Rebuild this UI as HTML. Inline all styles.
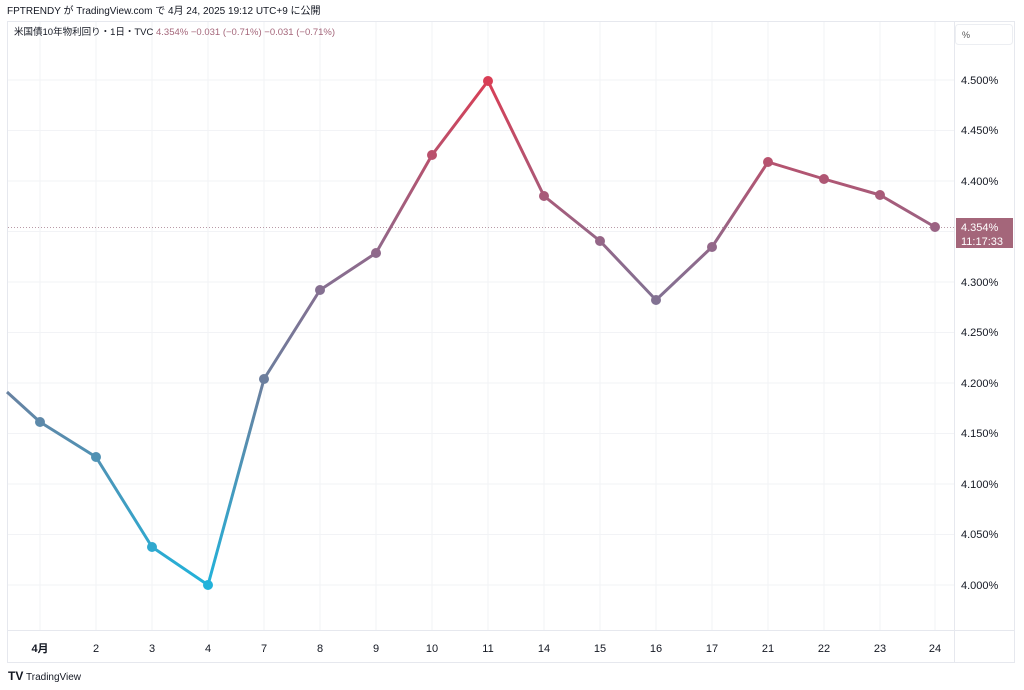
<!DOCTYPE html><html><head><meta charset="utf-8"><style>
body{margin:0;background:#fff;width:1024px;height:690px;overflow:hidden;font-family:"Liberation Sans","Noto Sans CJK JP",sans-serif}
</style></head><body>
<svg width="1024" height="690" xmlns="http://www.w3.org/2000/svg" style="position:absolute;left:0;top:0;font-family:'Liberation Sans','Noto Sans CJK JP',sans-serif">
<defs><linearGradient id="g" gradientUnits="userSpaceOnUse" x1="0" y1="585" x2="0" y2="80">
<stop offset="0" stop-color="#22b2da"/><stop offset="0.4" stop-color="#6b7f9e"/><stop offset="0.65" stop-color="#8e6a8c"/><stop offset="1" stop-color="#d93e55"/></linearGradient></defs>
<rect x="7.5" y="21.5" width="1007" height="641" fill="none" stroke="#e6e8ee"/>
<line x1="7" y1="630.5" x2="1015" y2="630.5" stroke="#e6e8ee"/>
<line x1="954.5" y1="22" x2="954.5" y2="662" stroke="#e6e8ee"/>
<g stroke="#f2f3f6">
<line x1="8" x2="954" y1="80" y2="80"/><line x1="8" x2="954" y1="130.5" y2="130.5"/><line x1="8" x2="954" y1="181" y2="181"/><line x1="8" x2="954" y1="231.5" y2="231.5"/><line x1="8" x2="954" y1="282" y2="282"/><line x1="8" x2="954" y1="332.5" y2="332.5"/><line x1="8" x2="954" y1="383" y2="383"/><line x1="8" x2="954" y1="433.5" y2="433.5"/><line x1="8" x2="954" y1="484" y2="484"/><line x1="8" x2="954" y1="534.5" y2="534.5"/><line x1="8" x2="954" y1="585" y2="585"/>
<line y1="22" y2="630" x1="40" x2="40"/><line y1="22" y2="630" x1="96" x2="96"/><line y1="22" y2="630" x1="152" x2="152"/><line y1="22" y2="630" x1="208" x2="208"/><line y1="22" y2="630" x1="264" x2="264"/><line y1="22" y2="630" x1="320" x2="320"/><line y1="22" y2="630" x1="376" x2="376"/><line y1="22" y2="630" x1="432" x2="432"/><line y1="22" y2="630" x1="488" x2="488"/><line y1="22" y2="630" x1="544" x2="544"/><line y1="22" y2="630" x1="600" x2="600"/><line y1="22" y2="630" x1="656" x2="656"/><line y1="22" y2="630" x1="712" x2="712"/><line y1="22" y2="630" x1="768" x2="768"/><line y1="22" y2="630" x1="824" x2="824"/><line y1="22" y2="630" x1="880" x2="880"/><line y1="22" y2="630" x1="935" x2="935"/>
</g>
<line x1="8" x2="954" y1="227.5" y2="227.5" stroke="#b89aa6" stroke-dasharray="1,2"/>
<polyline fill="none" stroke="url(#g)" stroke-width="3" stroke-linejoin="round" points="7,392 40,422 96,457 152,547 208,585 264,379 320,290 376,253 432,155 488,81 544,196 600,241 656,300 712,247 768,162 824,179 880,195 935,227"/>
<g fill="url(#g)">
<circle cx="40" cy="422" r="5"/><circle cx="96" cy="457" r="5"/><circle cx="152" cy="547" r="5"/><circle cx="208" cy="585" r="5"/><circle cx="264" cy="379" r="5"/><circle cx="320" cy="290" r="5"/><circle cx="376" cy="253" r="5"/><circle cx="432" cy="155" r="5"/><circle cx="488" cy="81" r="5"/><circle cx="544" cy="196" r="5"/><circle cx="600" cy="241" r="5"/><circle cx="656" cy="300" r="5"/><circle cx="712" cy="247" r="5"/><circle cx="768" cy="162" r="5"/><circle cx="824" cy="179" r="5"/><circle cx="880" cy="195" r="5"/><circle cx="935" cy="227" r="5"/>
</g>
<g font-size="11" fill="#131722">
<text x="961" y="84">4.500%</text><text x="961" y="134">4.450%</text><text x="961" y="185">4.400%</text><text x="961" y="286">4.300%</text><text x="961" y="336">4.250%</text><text x="961" y="387">4.200%</text><text x="961" y="437">4.150%</text><text x="961" y="488">4.100%</text><text x="961" y="538">4.050%</text><text x="961" y="589">4.000%</text>
</g>
<rect x="956" y="218" width="57" height="30" fill="#a4667a"/>
<text x="961" y="231" font-size="11" fill="#fff">4.354%</text>
<text x="961" y="245" font-size="11" fill="#fff">11:17:33</text>
<rect x="955.5" y="24.5" width="57" height="20" rx="3" fill="#fff" stroke="#eceef2"/>
<text x="962" y="38" font-size="9" fill="#555">%</text>
<g font-size="11" fill="#131722" text-anchor="middle">
<text x="40" y="652" font-weight="bold">4月</text><text x="96" y="652">2</text><text x="152" y="652">3</text><text x="208" y="652">4</text><text x="264" y="652">7</text><text x="320" y="652">8</text><text x="376" y="652">9</text><text x="432" y="652">10</text><text x="488" y="652">11</text><text x="544" y="652">14</text><text x="600" y="652">15</text><text x="656" y="652">16</text><text x="712" y="652">17</text><text x="768" y="652">21</text><text x="824" y="652">22</text><text x="880" y="652">23</text><text x="935" y="652">24</text>
</g>
<text x="7" y="14" font-size="10" fill="#131722">FPTRENDY が TradingView.com で 4月 24, 2025 19:12 UTC+9 に公開</text>
<text x="14" y="35" font-size="9.5" fill="#131722">米国債10年物利回り・1日・TVC <tspan fill="#a4667a">4.354%  −0.031 (−0.71%)  −0.031 (−0.71%)</tspan></text>
<text x="8" y="680" font-size="12" font-weight="bold" fill="#131722">TV</text>
<text x="26" y="680" font-size="10" fill="#131722">TradingView</text>
</svg>
</body></html>
